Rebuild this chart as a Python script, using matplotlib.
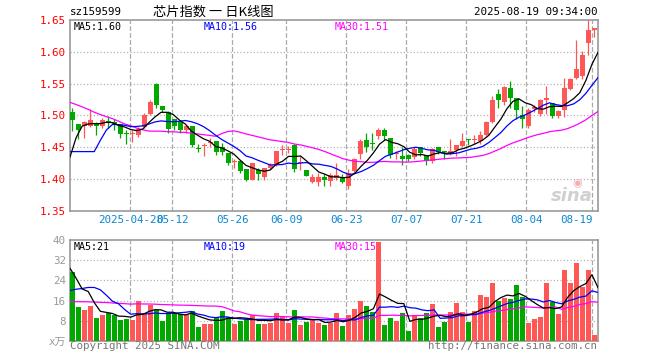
import matplotlib
matplotlib.use("Agg")
import matplotlib.pyplot as plt
import numpy as np
import pandas as pd

plt.rcParams['lines.scale_dashes'] = False

# ---------------- data ----------------
holidays = ["2025-05-01", "2025-05-02", "2025-05-05", "2025-06-02"]
trade_dates = [d.strftime("%Y-%m-%d") for d in pd.bdate_range("2025-04-14", "2025-08-19")
               if d.strftime("%Y-%m-%d") not in holidays]

open_ = [1.506, 1.486, 1.484, 1.483, 1.489, 1.483, 1.491, 1.490, 1.486, 1.473,
         1.471, 1.469, 1.482, 1.503, 1.549, 1.515, 1.506, 1.494, 1.490, 1.478,
         1.484, 1.449, 1.452, 1.457, 1.460, 1.451, 1.441, 1.427, 1.428, 1.416,
         1.399, 1.415, 1.404, 1.417, 1.423, 1.446, 1.446, 1.454, 1.426, 1.414,
         1.396, 1.395, 1.404, 1.397, 1.402, 1.404, 1.389, 1.413, 1.439, 1.461,
         1.456, 1.468, 1.477, 1.464, 1.4395, 1.437, 1.438, 1.435, 1.450, 1.438,
         1.429, 1.450, 1.443, 1.441, 1.446, 1.452, 1.462, 1.462, 1.460, 1.470,
         1.490, 1.533, 1.521, 1.543, 1.528, 1.500, 1.483, 1.510, 1.502, 1.525,
         1.519, 1.499, 1.508, 1.542, 1.559, 1.562, 1.614, 1.634]
close = [1.493, 1.477, 1.490, 1.493, 1.483, 1.493, 1.488, 1.487, 1.471, 1.471,
         1.473, 1.479, 1.500, 1.521, 1.516, 1.509, 1.479, 1.483, 1.478, 1.484,
         1.453, 1.448, 1.454, 1.459, 1.442, 1.443, 1.425, 1.428, 1.413, 1.399,
         1.425, 1.408, 1.417, 1.423, 1.445, 1.447, 1.447, 1.416, 1.427, 1.405,
         1.404, 1.404, 1.399, 1.406, 1.406, 1.396, 1.409, 1.432, 1.460, 1.451,
         1.455, 1.477, 1.468, 1.438, 1.4405, 1.432, 1.432, 1.448, 1.441, 1.429,
         1.448, 1.443, 1.442, 1.445, 1.453, 1.460, 1.461, 1.463, 1.470, 1.490,
         1.525, 1.524, 1.545, 1.528, 1.508, 1.495, 1.509, 1.514, 1.524, 1.527,
         1.499, 1.507, 1.543, 1.557, 1.573, 1.595, 1.634, 1.637]
high = [1.511, 1.487, 1.492, 1.510, 1.490, 1.496, 1.499, 1.494, 1.487, 1.478,
        1.478, 1.482, 1.504, 1.525, 1.551, 1.515, 1.507, 1.495, 1.490, 1.486,
        1.484, 1.455, 1.457, 1.464, 1.460, 1.457, 1.441, 1.432, 1.428, 1.416,
        1.426, 1.417, 1.418, 1.425, 1.445, 1.454, 1.452, 1.455, 1.437, 1.414,
        1.408, 1.410, 1.408, 1.410, 1.425, 1.408, 1.416, 1.434, 1.463, 1.473,
        1.472, 1.481, 1.481, 1.464, 1.444, 1.451, 1.440, 1.451, 1.451, 1.438,
        1.449, 1.451, 1.445, 1.463, 1.454, 1.472, 1.463, 1.469, 1.476, 1.491,
        1.531, 1.541, 1.546, 1.554, 1.528, 1.515, 1.511, 1.517, 1.526, 1.546,
        1.520, 1.509, 1.559, 1.559, 1.619, 1.601, 1.650, 1.638]
low = [1.475, 1.463, 1.464, 1.482, 1.469, 1.481, 1.481, 1.478, 1.464, 1.456,
       1.458, 1.467, 1.481, 1.500, 1.512, 1.505, 1.473, 1.478, 1.473, 1.473,
       1.450, 1.442, 1.437, 1.450, 1.438, 1.438, 1.423, 1.418, 1.410, 1.397,
       1.398, 1.399, 1.399, 1.416, 1.421, 1.438, 1.441, 1.412, 1.415, 1.405,
       1.394, 1.390, 1.390, 1.390, 1.399, 1.394, 1.384, 1.410, 1.432, 1.443,
       1.446, 1.463, 1.461, 1.434, 1.431, 1.423, 1.429, 1.432, 1.437, 1.423,
       1.425, 1.440, 1.432, 1.438, 1.437, 1.451, 1.454, 1.455, 1.456, 1.468,
       1.488, 1.512, 1.517, 1.512, 1.494, 1.481, 1.480, 1.506, 1.499, 1.502,
       1.496, 1.496, 1.498, 1.540, 1.557, 1.558, 1.595, 1.623]
volume = [27.3, 13.3, 12.4, 13.7, 9.3, 10.1, 11.1, 10.3, 8.5, 8.8,
          8.5, 15.7, 11.2, 14.3, 12.4, 8.0, 11.1, 11.1, 10.7, 10.7,
          11.7, 5.7, 6.9, 6.9, 9.6, 12.0, 9.6, 6.9, 8.0, 8.7,
          10.4, 6.9, 6.9, 7.3, 10.9, 9.6, 7.3, 12.4, 6.5, 7.7,
          8.7, 7.3, 6.5, 7.3, 10.9, 6.1, 10.1, 12.5, 16.0, 14.0,
          11.3, 39.3, 6.5, 9.3, 8.1, 10.9, 4.1, 10.4, 9.3, 10.9,
          14.5, 5.7, 7.7, 11.3, 14.9, 11.3, 7.7, 12.0, 18.1, 17.3,
          22.9, 15.7, 16.9, 16.5, 22.1, 17.3, 7.3, 8.9, 9.7, 22.9,
          15.3, 10.5, 28.1, 22.9, 30.9, 21.3, 28.1, 2.5]

# sessions before the visible window (estimated), used only for the moving averages
prior_close = [1.58, 1.60, 1.61, 1.62, 1.60, 1.59, 1.58, 1.59, 1.60, 1.56,
               1.59, 1.58, 1.58, 1.52, 1.51, 1.50, 1.49, 1.50, 1.49, 1.497,
               1.477, 1.490, 1.493, 1.483, 1.316, 1.326, 1.399, 1.475, 1.481]
prior_volume = [14, 13, 15, 12, 14, 13, 16, 12, 13, 14,
                12, 13, 15, 14, 12, 13, 14, 13, 12, 14,
                8.3, 9.4, 9.7, 9.3, 19.3, 32.8, 33.9, 18.7, 31.3]

label_dates = ["2025-04-28", "2025-05-12", "2025-05-26", "2025-06-09", "2025-06-23",
               "2025-07-07", "2025-07-21", "2025-08-04", "2025-08-19"]
label_texts = ["2025-04-28", "05-12", "05-26", "06-09", "06-23",
               "07-07", "07-21", "08-04", "08-19"]
price_ticks = [1.35, 1.40, 1.45, 1.50, 1.55, 1.60, 1.65]
vol_ticks = [8, 16, 24, 32, 40]

# ---------------- style ----------------
RED = "#FF5656"
GREEN = "#00A800"
GRID = "#AAAAAA"
FRAME = "#999999"
MONO = ["DejaVu Sans Mono", "Noto Sans CJK SC"]
FS = 7.2

W, H = 660, 360
fig = plt.figure(figsize=(6.6, 3.6), dpi=100)
fig.patch.set_facecolor("white")


def box(l, t, r, b):
    return [l / W, 1 - b / H, (r - l) / W, (b - t) / H]


def ftext(x, y, s, **kw):
    fig.text(x / W, 1 - y / H, s, **kw)


ax = fig.add_axes(box(70, 20, 598, 211))
axv = fig.add_axes(box(70, 240, 598, 341))

o = np.array(open_)
c = np.array(close)
h = np.array(high)
l = np.array(low)
v = np.array(volume)
n = len(c)
x = np.arange(n)
up = c >= o
cols = np.where(up, RED, GREEN)

xmin, xmax = -0.4, n - 0.4
x_ma = np.linspace(xmin, xmax, n)
label_idx = [trade_dates.index(d) for d in label_dates]

for a in (ax, axv):
    a.set_xlim(xmin, xmax)
    for s in a.spines.values():
        s.set_color(FRAME)
        s.set_linewidth(1.2)
    for i in label_idx:
        a.axvline(i - 0.35, color=GRID, lw=0.9, dashes=(3.4, 1.6), zorder=0)
    a.tick_params(length=0)

# candles
ax.vlines(x, l, h, colors=cols, lw=0.9, zorder=3)
body_bot = np.minimum(o, c)
body_h = np.maximum(np.abs(c - o), 0.0016)
ax.bar(x, body_h, bottom=body_bot, width=0.8, color=cols, linewidth=0, zorder=4)

allc = pd.Series(prior_close + close)
k = len(prior_close)
ma5 = allc.rolling(5).mean().values[k:]
ma10 = allc.rolling(10).mean().values[k:]
ma30 = allc.rolling(30).mean().values[k:]
ax.plot(x_ma, ma30, color="#FF00FF", lw=0.9, zorder=5)
ax.plot(x_ma, ma10, color="#0000FF", lw=0.9, zorder=5)
ax.plot(x_ma, ma5, color="black", lw=0.9, zorder=5)

ax.set_ylim(1.35, 1.65)
ax.set_yticks(price_ticks)
ax.set_yticklabels([f"{t:.2f}" for t in price_ticks], color="#FF0000",
                   fontsize=FS + 0.6, family=MONO)
for t in price_ticks[1:-1]:
    ax.axhline(t, color=GRID, lw=0.9, dashes=(0.8, 1.6), zorder=0)
ax.set_xticks([i - 0.35 for i in label_idx])
ax.set_xticklabels(label_texts, color="#0A88D0", fontsize=FS + 0.6, family=MONO)
ax.tick_params(axis="y", pad=3)
ax.tick_params(axis="x", pad=3)
xt = ax.get_xticklabels()
xt[-1].set_horizontalalignment("right")

# volume
axv.bar(x, v, width=0.8, color=cols, linewidth=0, zorder=3)
allv = pd.Series(prior_volume + volume)
kv = len(prior_volume)
vma5 = allv.rolling(5).mean().values[kv:]
vma10 = allv.rolling(10).mean().values[kv:]
vma30 = allv.rolling(30).mean().values[kv:]
axv.plot(x_ma, vma30, color="#FF00FF", lw=0.9, zorder=5)
axv.plot(x_ma, vma10, color="#0000FF", lw=0.9, zorder=5)
axv.plot(x_ma, vma5, color="black", lw=0.9, zorder=5)
axv.set_ylim(0, 40)
axv.set_yticks([0] + vol_ticks)
axv.set_yticklabels(["x万"] + [str(t) for t in vol_ticks], color="#999999",
                    fontsize=FS + 0.6, family=MONO)
for t in vol_ticks[:-1]:
    axv.axhline(t, color=GRID, lw=0.9, dashes=(0.8, 1.6), zorder=0)
axv.set_xticks([])
axv.tick_params(axis="y", pad=3)

# texts
ftext(70, 12, "sz159599", fontsize=FS + 0.6, family=MONO, va="center", ha="left")
ftext(213, 12, "芯片指数 一 日K线图", fontsize=9.5, family=["Noto Sans CJK SC"],
      va="center", ha="center")
ftext(597, 12, "2025-08-19 09:34:00", fontsize=FS + 0.6, family=MONO, va="center", ha="right")

ftext(74, 27, f"MA5:{ma5[-1]:.2f}", fontsize=FS, family=MONO, va="center", color="black")
ftext(204, 27, f"MA10:{ma10[-1]:.2f}", fontsize=FS, family=MONO, va="center", color="#0000FF")
ftext(335, 27, f"MA30:{ma30[-1]:.2f}", fontsize=FS, family=MONO, va="center", color="#FF00FF")

ftext(74, 247, f"MA5:{vma5[-1]:.0f}", fontsize=FS, family=MONO, va="center", color="black")
ftext(204, 247, f"MA10:{vma10[-1]:.0f}", fontsize=FS, family=MONO, va="center", color="#0000FF")
ftext(335, 247, f"MA30:{vma30[-1]:.0f}", fontsize=FS, family=MONO, va="center", color="#FF00FF")

ftext(70, 346, "Copyright 2025 SINA.COM", fontsize=FS + 0.6, family=MONO, va="center",
      ha="left", color="#777777")
ftext(597, 346, "http://finance.sina.com.cn", fontsize=FS + 0.6, family=MONO, va="center",
      ha="right", color="#777777")

ftext(572, 196, "sina", fontsize=13, fontweight="bold", style="italic", va="center",
      ha="center", color="#D0D0D0")
ftext(577, 183, "◉", fontsize=8, va="center", ha="center", color="#F0B0B0")

fig.savefig("out.png", dpi=100, facecolor="white")
